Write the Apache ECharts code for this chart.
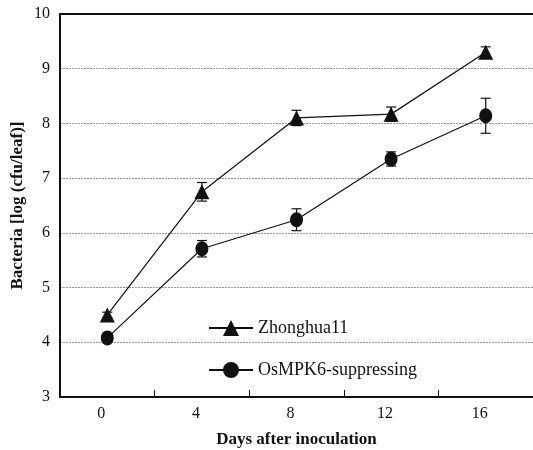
<!DOCTYPE html>
<html>
<head>
<meta charset="utf-8">
<script src="https://cdn.jsdelivr.net/npm/echarts@6/dist/echarts.min.js"></script>
<style>html,body{margin:0;padding:0;background:#fff}#c{width:533px;height:450px}</style>
</head>
<body>
<div id="c"></div>
<script>
var days = ['0', '4', '8', '12', '16'];
var zhonghua = [4.5, 6.75, 8.1, 8.17, 9.3];
var zhonghuaErr = [0.05, 0.17, 0.14, 0.13, 0.1];
var osmpk = [4.08, 5.71, 6.24, 7.35, 8.14];
var osmpkErr = [0.05, 0.15, 0.2, 0.13, 0.32];
var yTicks = [3, 4, 5, 6, 7, 8, 9, 10];

var FONT = '"Liberation Serif", "DejaVu Serif", serif';

function errData(vals, errs) {
  return vals.map(function (v, i) { return [i, v - errs[i], v + errs[i]]; });
}
function errRender(params, api) {
  var x = api.value(0);
  var lo = api.coord([x, api.value(1)]);
  var hi = api.coord([x, api.value(2)]);
  var hw = 5;
  var st = { stroke: '#111', lineWidth: 1.2 };
  return {
    type: 'group',
    children: [
      { type: 'line', shape: { x1: hi[0], y1: hi[1], x2: lo[0], y2: lo[1] }, style: st },
      { type: 'line', shape: { x1: hi[0] - hw, y1: hi[1], x2: hi[0] + hw, y2: hi[1] }, style: st },
      { type: 'line', shape: { x1: lo[0] - hw, y1: lo[1], x2: lo[0] + hw, y2: lo[1] }, style: st }
    ]
  };
}

var chart = echarts.init(document.getElementById('c'), null, { renderer: 'canvas' });
chart.setOption({
  backgroundColor: '#fff',
  animation: false,
  textStyle: { fontFamily: FONT },
  grid: { left: 60, right: 0, top: 14, bottom: 53, outerBoundsMode: 'none', containLabel: false },
  legend: {
    orient: 'vertical',
    left: 203,
    top: 314,
    itemWidth: 44,
    itemHeight: 20,
    itemGap: 24,
    data: ['Zhonghua11', 'OsMPK6-suppressing'],
    textStyle: { fontFamily: FONT, fontSize: 18, color: '#111' }
  },
  xAxis: [{
    type: 'category',
    data: days,
    boundaryGap: true,
    name: 'Days after inoculation',
    nameLocation: 'middle',
    nameGap: 34,
    nameMoveOverlap: false,
    nameTextStyle: { fontFamily: FONT, fontSize: 17, fontWeight: 'bold', color: '#111' },
    axisLine: { lineStyle: { color: '#111', width: 2 } },
    axisTick: { show: true, inside: true, length: 7, lineStyle: { color: '#111', width: 1 } },
    axisLabel: { fontFamily: FONT, fontSize: 16, color: '#111', margin: 9, padding: [0, 12, 0, 0] },
    splitLine: { show: false }
  }, {
    type: 'category',
    data: days,
    position: 'top',
    axisLine: { show: true, lineStyle: { color: '#111', width: 2 } },
    axisTick: { show: false },
    axisLabel: { show: false },
    splitLine: { show: false }
  }],
  yAxis: {
    type: 'value',
    min: yTicks[0],
    max: yTicks[yTicks.length - 1],
    interval: 1,
    name: 'Bacteria [log (cfu/leaf)]',
    nameLocation: 'middle',
    nameGap: 34,
    nameMoveOverlap: false,
    nameTextStyle: { fontFamily: FONT, fontSize: 17, fontWeight: 'bold', color: '#111' },
    axisLine: { show: true, lineStyle: { color: '#111', width: 2 } },
    axisTick: { show: false },
    axisLabel: { fontFamily: FONT, fontSize: 16, color: '#111', margin: 10 },
    splitLine: { show: true, lineStyle: { color: '#999', width: 1, type: [2, 1] } }
  },
  series: [{
    name: 'Zhonghua11',
    type: 'line',
    data: zhonghua,
    symbol: 'triangle',
    symbolSize: [15, 15],
    itemStyle: { color: '#111' },
    lineStyle: { color: '#111', width: 1.2 },
    z: 3
  }, {
    name: 'OsMPK6-suppressing',
    type: 'line',
    data: osmpk,
    symbol: 'circle',
    symbolSize: [13, 15],
    itemStyle: { color: '#111' },
    lineStyle: { color: '#111', width: 1.2 },
    z: 3
  }, {
    type: 'custom',
    renderItem: errRender,
    data: errData(zhonghua, zhonghuaErr),
    encode: { x: 0, y: [1, 2] },
    z: 4
  }, {
    type: 'custom',
    renderItem: errRender,
    data: errData(osmpk, osmpkErr),
    encode: { x: 0, y: [1, 2] },
    z: 4
  }]
});
</script>
</body>
</html>
